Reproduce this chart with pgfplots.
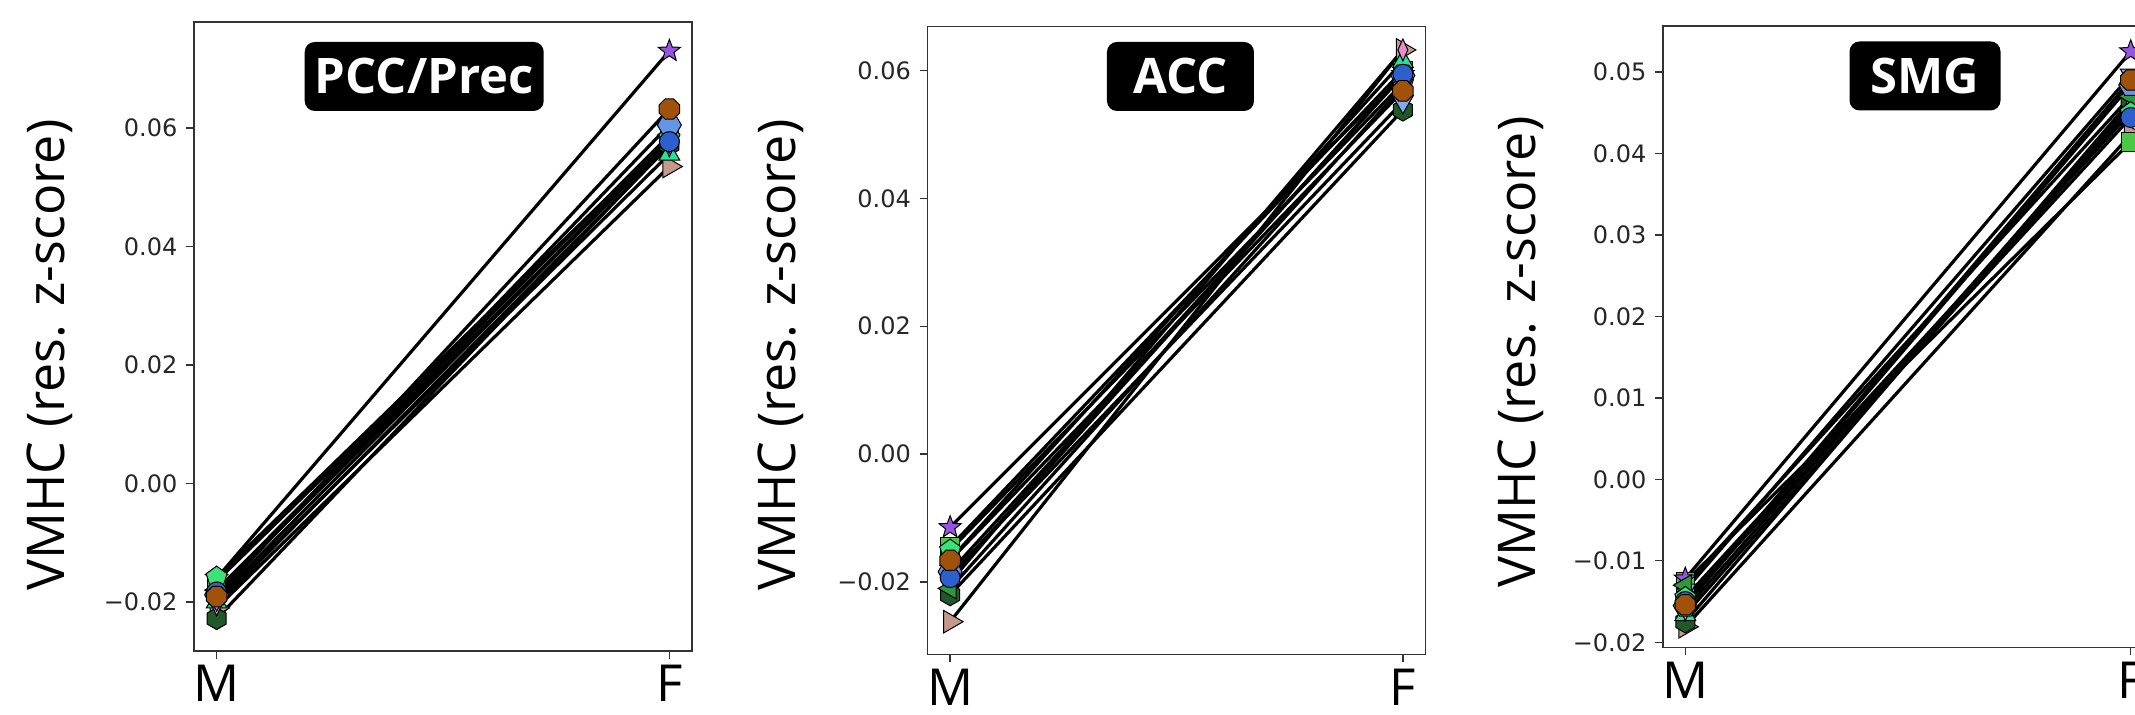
\documentclass[border=0pt]{standalone}
\usepackage{fontspec}
\setmainfont{Open Sans}
\newfontfamily\djv{DejaVu Sans}
\usepackage{pgfplots}
\pgfplotsset{compat=1.18}

\definecolor{crosy}{RGB}{196,152,138}
\definecolor{cdkgreen}{RGB}{32,88,42}
\definecolor{clgreen}{RGB}{75,200,70}
\definecolor{cstar}{RGB}{150,85,225}
\definecolor{cmint}{RGB}{40,225,150}
\definecolor{cpink}{RGB}{230,140,200}
\definecolor{clblue}{RGB}{125,175,240}
\definecolor{cgreen}{RGB}{50,150,60}
\definecolor{cmintp}{RGB}{60,225,120}
\definecolor{ccorn}{RGB}{100,150,230}
\definecolor{cblue}{RGB}{45,95,205}
\definecolor{cbrown}{RGB}{160,82,10}

% hexagon, vertex up
\pgfdeclareplotmark{hexv}{%
  \pgfpathmoveto{\pgfqpointpolar{90}{\pgfplotmarksize}}%
  \pgfpathlineto{\pgfqpointpolar{150}{\pgfplotmarksize}}%
  \pgfpathlineto{\pgfqpointpolar{210}{\pgfplotmarksize}}%
  \pgfpathlineto{\pgfqpointpolar{270}{\pgfplotmarksize}}%
  \pgfpathlineto{\pgfqpointpolar{330}{\pgfplotmarksize}}%
  \pgfpathlineto{\pgfqpointpolar{30}{\pgfplotmarksize}}%
  \pgfpathclose\pgfusepathqfillstroke}
% hexagon, vertex sideways
\pgfdeclareplotmark{hexh}{%
  \pgfpathmoveto{\pgfqpointpolar{0}{\pgfplotmarksize}}%
  \pgfpathlineto{\pgfqpointpolar{60}{\pgfplotmarksize}}%
  \pgfpathlineto{\pgfqpointpolar{120}{\pgfplotmarksize}}%
  \pgfpathlineto{\pgfqpointpolar{180}{\pgfplotmarksize}}%
  \pgfpathlineto{\pgfqpointpolar{240}{\pgfplotmarksize}}%
  \pgfpathlineto{\pgfqpointpolar{300}{\pgfplotmarksize}}%
  \pgfpathclose\pgfusepathqfillstroke}
% octagon
\pgfdeclareplotmark{oct}{%
  \pgfpathmoveto{\pgfqpointpolar{22.5}{\pgfplotmarksize}}%
  \pgfpathlineto{\pgfqpointpolar{67.5}{\pgfplotmarksize}}%
  \pgfpathlineto{\pgfqpointpolar{112.5}{\pgfplotmarksize}}%
  \pgfpathlineto{\pgfqpointpolar{157.5}{\pgfplotmarksize}}%
  \pgfpathlineto{\pgfqpointpolar{202.5}{\pgfplotmarksize}}%
  \pgfpathlineto{\pgfqpointpolar{247.5}{\pgfplotmarksize}}%
  \pgfpathlineto{\pgfqpointpolar{292.5}{\pgfplotmarksize}}%
  \pgfpathlineto{\pgfqpointpolar{337.5}{\pgfplotmarksize}}%
  \pgfpathclose\pgfusepathqfillstroke}
% filled five-point star
\pgfdeclareplotmark{fstar}{%
  \pgfpathmoveto{\pgfqpointpolar{90}{\pgfplotmarksize}}%
  \pgfpathlineto{\pgfqpointpolar{126}{0.42\pgfplotmarksize}}%
  \pgfpathlineto{\pgfqpointpolar{162}{\pgfplotmarksize}}%
  \pgfpathlineto{\pgfqpointpolar{198}{0.42\pgfplotmarksize}}%
  \pgfpathlineto{\pgfqpointpolar{234}{\pgfplotmarksize}}%
  \pgfpathlineto{\pgfqpointpolar{270}{0.42\pgfplotmarksize}}%
  \pgfpathlineto{\pgfqpointpolar{306}{\pgfplotmarksize}}%
  \pgfpathlineto{\pgfqpointpolar{342}{0.42\pgfplotmarksize}}%
  \pgfpathlineto{\pgfqpointpolar{18}{\pgfplotmarksize}}%
  \pgfpathlineto{\pgfqpointpolar{54}{0.42\pgfplotmarksize}}%
  \pgfpathclose\pgfusepathqfillstroke}

\pgfplotscreateplotcyclelist{mk}{%
 black,line width=1.6pt,mark=triangle*,mark size=6.5pt,mark options={solid,rotate=-90,fill=crosy,draw=black,line width=0.5pt}\\%
 black,line width=1.6pt,mark=hexv,mark size=5.5pt,mark options={solid,fill=cdkgreen,draw=black,line width=0.5pt}\\%
 black,line width=1.6pt,mark=square*,mark size=4.6pt,mark options={solid,fill=clgreen,draw=black,line width=0.5pt}\\%
 black,line width=1.6pt,mark=fstar,mark size=5.8pt,mark options={solid,fill=cstar,draw=black,line width=0.5pt}\\%
 black,line width=1.6pt,mark=triangle*,mark size=6pt,mark options={solid,fill=cmint,draw=black,line width=0.5pt}\\%
 black,line width=1.6pt,mark=diamond*,mark size=5.5pt,mark options={solid,xscale=0.6,fill=cpink,draw=black,line width=0.5pt}\\%
 black,line width=1.6pt,mark=triangle*,mark size=6pt,mark options={solid,rotate=180,fill=clblue,draw=black,line width=0.5pt}\\%
 black,line width=1.6pt,mark=triangle*,mark size=6pt,mark options={solid,rotate=90,fill=cgreen,draw=black,line width=0.5pt}\\%
 black,line width=1.6pt,mark=pentagon*,mark size=5.5pt,mark options={solid,fill=cmintp,draw=black,line width=0.5pt}\\%
 black,line width=1.6pt,mark=hexh,mark size=6pt,mark options={solid,fill=ccorn,draw=black,line width=0.5pt}\\%
 black,line width=1.6pt,mark=*,mark size=5pt,mark options={solid,fill=cblue,draw=black,line width=0.5pt}\\%
 black,line width=1.6pt,mark=oct,mark size=5.5pt,mark options={solid,fill=cbrown,draw=black,line width=0.5pt}\\%
}

\pgfplotsset{
  base/.style={
    scale only axis, anchor=south west, clip=false,
    scaled y ticks=false,
    xmin=-0.05, xmax=1.05, xtick={0,1}, xticklabels={M,F},
    tick align=outside, major tick length=4pt, tick pos=left,
    axis line style={black!80, line width=0.7pt},
    every tick/.style={black!80, line width=0.7pt},
    yticklabel style={font=\djv\fontsize{12}{14}\selectfont, text=black!85, xshift=-0.8pt},
    xticklabel style={font=\fontsize{25.5}{30}\selectfont, inner sep=0pt, yshift=-3pt},
    ylabel={VMHC (res. z-score)},
    ylabel style={font=\fontsize{26}{30}\selectfont, anchor=base},
    cycle list name=mk,
  },
}
\tikzset{
  ttl/.style={fill=black, text=white, rounded corners=5pt,
    font=\bfseries\fontsize{24.5}{28}\selectfont,
    text height=17.5pt, text depth=0pt, inner ysep=8.5pt, inner xsep=4pt},
}

\begin{document}
\begin{tikzpicture}
% ---- PCC/Prec ----
\begin{axis}[base, at={(97pt,32pt)}, width=249pt, height=314.5pt,
  ymin=-0.02827, ymax=0.07789,
  ytick={-0.02,0,0.02,0.04,0.06}, yticklabels={−0.02,0.00,0.02,0.04,0.06},
  ylabel style={at={(axis description cs:-0.261,0.4706)}}]
\addplot coordinates {(0,-0.0210) (1,0.0535)};
\addplot coordinates {(0,-0.0228) (1,0.0572)};
\addplot coordinates {(0,-0.0165) (1,0.0582)};
\addplot coordinates {(0,-0.0160) (1,0.0730)};
\addplot coordinates {(0,-0.0200) (1,0.0556)};
\addplot coordinates {(0,-0.0205) (1,0.0570)};
\addplot coordinates {(0,-0.0195) (1,0.0578)};
\addplot coordinates {(0,-0.0180) (1,0.0588)};
\addplot coordinates {(0,-0.0158) (1,0.0584)};
\addplot coordinates {(0,-0.0188) (1,0.0605)};
\addplot coordinates {(0,-0.0183) (1,0.0577)};
\addplot coordinates {(0,-0.0191) (1,0.0632)};
\node[ttl, minimum width=119.5pt] at (axis description cs:0.4623,0.9134) {PCC/Prec};
\end{axis}
% ---- ACC ----
\begin{axis}[base, at={(463.75pt,30.35pt)}, width=249pt, height=313.85pt,
  ymin=-0.0313, ymax=0.06685,
  ytick={-0.02,0,0.02,0.04,0.06}, yticklabels={−0.02,0.00,0.02,0.04,0.06},
  ylabel style={at={(axis description cs:-0.2645,0.4768)}}]
\addplot coordinates {(0,-0.0262) (1,0.0632)};
\addplot coordinates {(0,-0.0220) (1,0.0538)};
\addplot coordinates {(0,-0.0145) (1,0.0600)};
\addplot coordinates {(0,-0.01145) (1,0.0594)};
\addplot coordinates {(0,-0.0165) (1,0.0614)};
\addplot coordinates {(0,-0.0200) (1,0.0632)};
\addplot coordinates {(0,-0.0190) (1,0.0551)};
\addplot coordinates {(0,-0.0210) (1,0.0575)};
\addplot coordinates {(0,-0.0150) (1,0.0580)};
\addplot coordinates {(0,-0.0184) (1,0.0592)};
\addplot coordinates {(0,-0.0193) (1,0.0594)};
\addplot coordinates {(0,-0.0166) (1,0.0568)};
\node[ttl, minimum width=73.5pt] at (axis description cs:0.508,0.9205) {ACC};
\end{axis}
% ---- SMG ----
\begin{axis}[base, at={(831.5pt,33.75pt)}, width=245pt, height=310.75pt,
  ymin=-0.02064, ymax=0.05563,
  ytick={-0.02,-0.01,0,0.01,0.02,0.03,0.04,0.05},
  yticklabels={−0.02,−0.01,0.00,0.01,0.02,0.03,0.04,0.05},
  ylabel style={at={(axis description cs:-0.2596,0.4755)}}]
\addplot coordinates {(0,-0.0181) (1,0.0423)};
\addplot coordinates {(0,-0.0175) (1,0.0465)};
\addplot coordinates {(0,-0.0126) (1,0.0414)};
\addplot coordinates {(0,-0.0122) (1,0.0525)};
\addplot coordinates {(0,-0.0166) (1,0.0455)};
\addplot coordinates {(0,-0.0160) (1,0.0460)};
\addplot coordinates {(0,-0.0136) (1,0.0496)};
\addplot coordinates {(0,-0.0130) (1,0.0470)};
\addplot coordinates {(0,-0.0145) (1,0.0450)};
\addplot coordinates {(0,-0.0155) (1,0.0484)};
\addplot coordinates {(0,-0.0150) (1,0.0444)};
\addplot coordinates {(0,-0.0154) (1,0.0490)};
\node[ttl, minimum width=75.5pt] at (axis description cs:0.5347,0.9196) {SMG};
\end{axis}
\pgfresetboundingbox
\useasboundingbox (0,0) rectangle (1067.5pt,357.5pt);
\end{tikzpicture}
\end{document}
